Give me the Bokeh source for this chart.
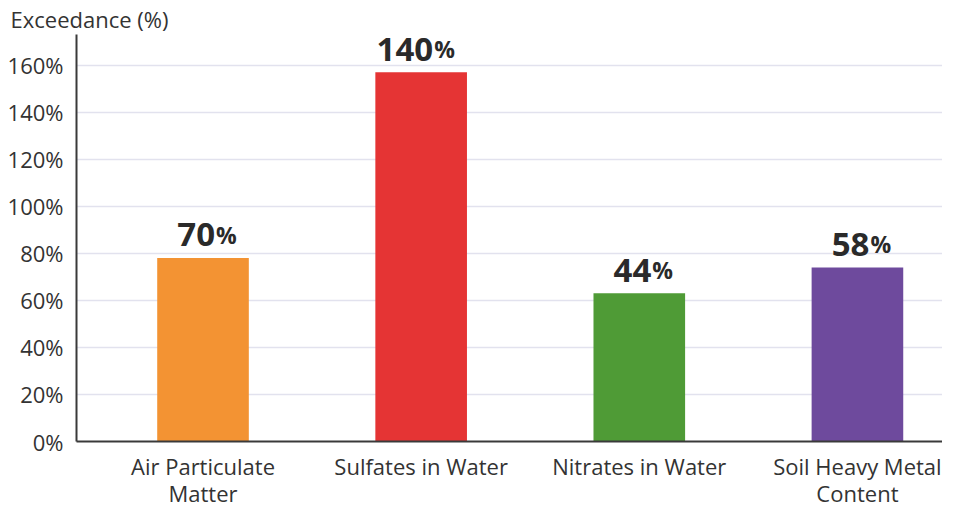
from bokeh.plotting import figure
from bokeh.models import Range1d, FixedTicker, ColumnDataSource
from bokeh.core.properties import value
from bokeh.embed import file_html
from bokeh.resources import INLINE

categories = ["Air Particulate\nMatter", "Sulfates in Water", "Nitrates in Water", "Soil Heavy Metal\nContent"]
bar_heights = [78, 157, 63, 74]
label_values = [70, 140, 44, 58]
colors = ["#F39333", "#E53434", "#4F9B36", "#6E4A9D"]
y_ticks = [0, 20, 40, 60, 80, 100, 120, 140, 160]

FONT = "Open Sans"
TXT = "#333333"

x_pos = list(range(len(categories)))
src = ColumnDataSource(dict(
    x=x_pos, top=bar_heights, color=colors,
    num=[str(v) for v in label_values], pct=["%"] * len(label_values),
))

p = figure(width=942, height=511, output_backend="svg", toolbar_location=None,
           x_range=Range1d(-0.58, 3.39), y_range=Range1d(0, 173),
           min_border_left=76, min_border_right=0, min_border_top=34, min_border_bottom=50)
p.title.text = "Exceedance (%)"
p.title.align = "left"
p.title.offset = -66
p.title.standoff = 2
p.title.text_font = FONT
p.title.text_font_size = "22px"
p.title.text_font_style = "normal"
p.title.text_color = TXT

p.vbar(x="x", top="top", width=0.42, color="color", source=src, line_color=None)

p.text(x="x", y="top", text="num", source=src, text_font=value(FONT), text_font_style="bold",
       text_font_size="33px", text_color="#2a2a2a", text_align="right", text_baseline="alphabetic",
       x_offset=12, y_offset=-23)
p.text(x="x", y="top", text="pct", source=src, text_font=value(FONT), text_font_style="bold",
       text_font_size="23px", text_color="#2a2a2a", text_align="left", text_baseline="alphabetic",
       x_offset=13, y_offset=-23)

p.yaxis.ticker = FixedTicker(ticks=y_ticks)
p.yaxis.major_label_overrides = {t: f"{t}%" for t in y_ticks}
p.xaxis.ticker = FixedTicker(ticks=x_pos)
p.xaxis.major_label_overrides = {i: c for i, c in enumerate(categories)}

for ax in (p.xaxis, p.yaxis):
    ax.major_label_text_font = FONT
    ax.major_label_text_font_size = "22px"
    ax.major_label_text_color = TXT
    ax.major_tick_line_color = None
    ax.minor_tick_line_color = None
    ax.axis_line_color = "#3a3a3a"
    ax.axis_line_width = 2
p.yaxis.major_label_standoff = 7
p.xaxis.major_label_standoff = 3
p.xaxis.major_label_text_line_height = 0.92

p.xgrid.grid_line_color = None
p.ygrid.grid_line_color = "#E2E2EE"
p.ygrid.grid_line_width = 1.5
p.outline_line_color = None
p.background_fill_color = "white"

open("out.html", "w").write(file_html(p, INLINE))
